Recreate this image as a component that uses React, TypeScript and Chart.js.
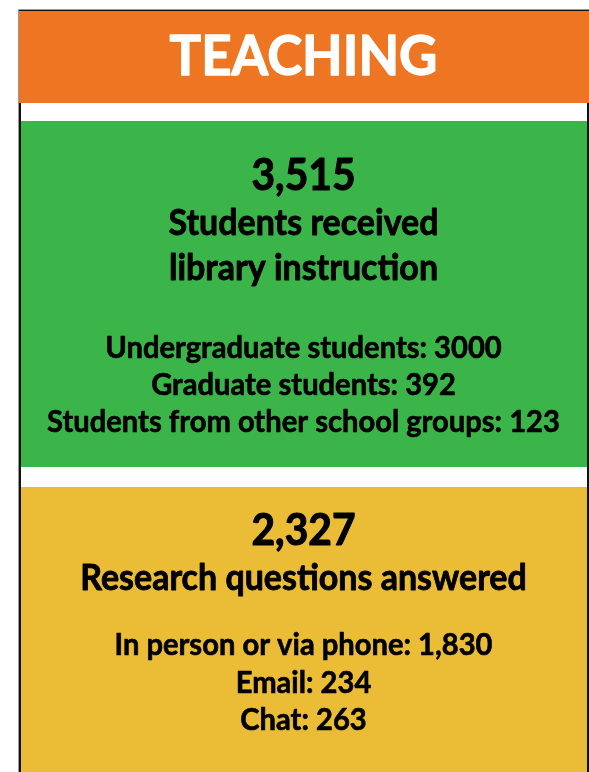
import React, { useEffect, useRef } from "react";
import { Chart, registerables } from "chart.js";

Chart.register(...registerables);

// ---- data ----
const sectionTitle = "TEACHING";
const instructionHeading = ["Students received", "library instruction"];
const instructionCategories = ["Undergraduate students", "Graduate students", "Students from other school groups"];
const instructionValues = [3000, 392, 123];
const questionHeading = ["Research questions answered"];
const questionCategories = ["In person or via phone", "Email", "Chat"];
const questionValues = [1830, 234, 263];

const W = 589;
const H = 772;
const FONT = "Lato, 'Open Sans', sans-serif";

const fmtComma = (n: number) => n.toLocaleString("en-US");

function fitSize(ctx: CanvasRenderingContext2D, text: string, target: number) {
  const base = 40;
  ctx.font = `700 ${base}px ${FONT}`;
  const w = ctx.measureText(text).width;
  return (base * target) / w;
}

function boldText(ctx: CanvasRenderingContext2D, text: string, x: number, y: number, color: string, stroke: number) {
  // slight vertical stretch to mimic a taller, heavier face
  const sy = 1.06;
  ctx.save();
  ctx.translate(x, y);
  ctx.scale(1, sy);
  ctx.fillStyle = color;
  ctx.strokeStyle = color;
  ctx.lineWidth = stroke;
  ctx.lineJoin = "round";
  ctx.fillText(text, 0, 0);
  ctx.strokeText(text, 0, 0);
  ctx.restore();
}

const infographicPlugin = {
  id: "infographic",
  beforeDraw(chart: any) {
    const ctx: CanvasRenderingContext2D = chart.ctx;
    ctx.save();
    // background
    ctx.fillStyle = "#ffffff";
    ctx.fillRect(0, 0, W, H);
    // frame
    ctx.fillStyle = "#9a9a9a";
    ctx.fillRect(18, 9, W - 18, H - 9);
    ctx.fillStyle = "#111111";
    ctx.fillRect(19, 10, W - 19, H - 10);
    ctx.fillStyle = "#ffffff";
    ctx.fillRect(21, 11, 566, H - 11);
    // panels
    ctx.fillStyle = "#EE7623";
    ctx.fillRect(19, 11, W - 19, 92);
    ctx.fillStyle = "#3BB54A";
    ctx.fillRect(21, 121, 566, 346);
    ctx.fillStyle = "#EBBC36";
    ctx.fillRect(21, 487, 566, H - 487);

    const cx = 303.5;
    ctx.textAlign = "center";
    ctx.textBaseline = "alphabetic";

    const titleSize = fitSize(ctx, sectionTitle, 268);
    const numSize = fitSize(ctx, "3,515", 104);
    const headSize = fitSize(ctx, instructionHeading[0], 270);
    const detailSize = fitSize(ctx, `${instructionCategories[2]}: ${instructionValues[2]}`, 513);

    // title
    ctx.font = `700 ${titleSize}px ${FONT}`;
    boldText(ctx, sectionTitle, cx, 75, "#ffffff", 1.2);

    const black = "#000000";
    // instruction block
    const instrTotal = instructionValues.reduce((a, b) => a + b, 0);
    ctx.font = `700 ${numSize}px ${FONT}`;
    boldText(ctx, fmtComma(instrTotal), cx, 190, black, 1.0);
    ctx.font = `700 ${headSize}px ${FONT}`;
    instructionHeading.forEach((t, i) => boldText(ctx, t, cx, 235 + i * 45, black, 0.8));
    ctx.font = `700 ${detailSize}px ${FONT}`;
    instructionCategories.forEach((c, i) =>
      boldText(ctx, `${c}: ${instructionValues[i]}`, cx, 358 + i * 37, black, 0.6)
    );

    // questions block
    const qTotal = questionValues.reduce((a, b) => a + b, 0);
    ctx.font = `700 ${numSize}px ${FONT}`;
    boldText(ctx, fmtComma(qTotal), cx, 545, black, 1.0);
    ctx.font = `700 ${headSize}px ${FONT}`;
    questionHeading.forEach((t, i) => boldText(ctx, t, cx, 590 + i * 45, black, 0.8));
    ctx.font = `700 ${detailSize}px ${FONT}`;
    questionCategories.forEach((c, i) =>
      boldText(ctx, `${c}: ${fmtComma(questionValues[i])}`, cx, 655 + i * 37.5, black, 0.6)
    );
    ctx.restore();
  },
};

export default function App() {
  const ref = useRef<HTMLCanvasElement | null>(null);
  useEffect(() => {
    if (!ref.current) return;
    const chart = new Chart(ref.current, {
      type: "bar",
      data: {
        labels: [...instructionCategories, ...questionCategories],
        datasets: [
          {
            label: "Count",
            data: [...instructionValues, ...questionValues],
            hidden: true,
          },
        ],
      },
      options: {
        responsive: false,
        animation: false,
        events: [],
        layout: { padding: 0 },
        scales: { x: { display: false }, y: { display: false } },
        plugins: { legend: { display: false }, tooltip: { enabled: false } },
      },
      plugins: [infographicPlugin],
    });
    return () => chart.destroy();
  }, []);
  return (
    <div style={{ position: "fixed", left: 0, top: 0, width: W, height: H }}>
      <canvas ref={ref} width={W} height={H} style={{ display: "block" }} />
    </div>
  );
}
